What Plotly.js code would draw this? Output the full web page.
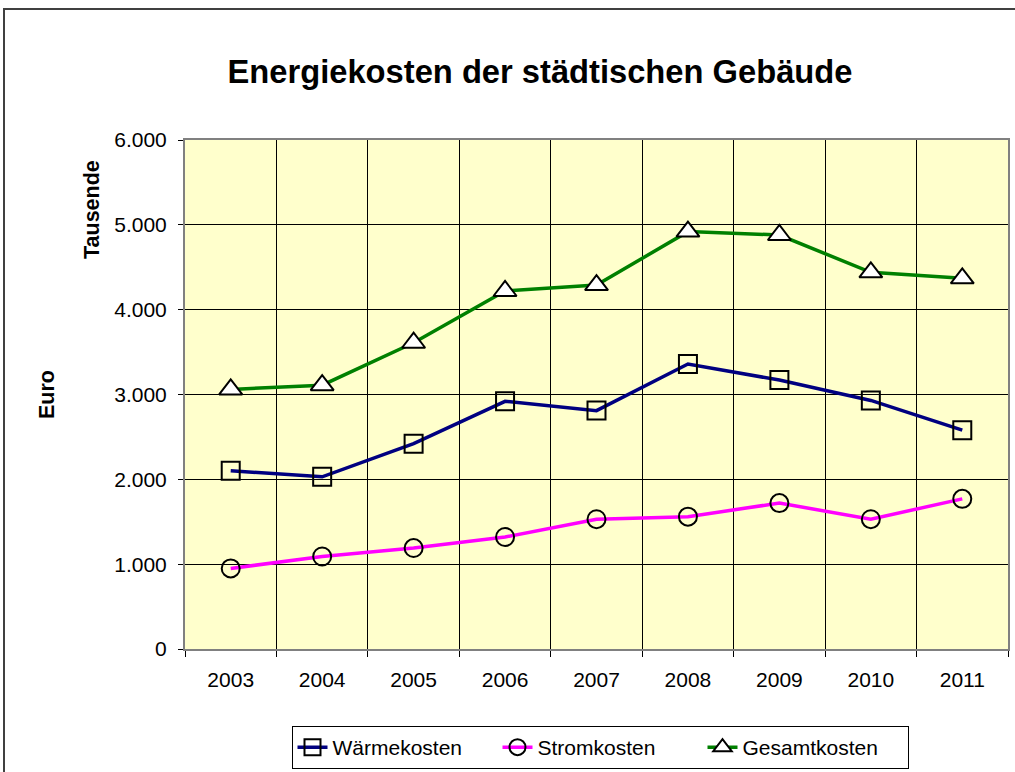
<!DOCTYPE html>
<html>
<head>
<meta charset="utf-8">
<script src="https://cdn.plot.ly/plotly-3.0.1.min.js"></script>
<style>html,body{margin:0;padding:0;background:#fff;}#chart{width:1015px;height:772px;}</style>
</head>
<body>
<div id="chart"></div>
<script>
const years = ['2003','2004','2005','2006','2007','2008','2009','2010','2011'];
const waermekosten = [2100, 2030, 2420, 2920, 2810, 3360, 3170, 2930, 2580];
const stromkosten = [950, 1090, 1190, 1320, 1530, 1560, 1720, 1530, 1770];
const gesamtkosten = [3060, 3110, 3610, 4220, 4290, 4920, 4880, 4440, 4370];
const yTickVals = [0, 1000, 2000, 3000, 4000, 5000, 6000];
const yTickText = ['0', '1.000', '2.000', '3.000', '4.000', '5.000', '6.000'];

const FONT = 'Liberation Sans, Arial, sans-serif';

const traces = [
  {x: years, y: waermekosten, name: 'Wärmekosten', type: 'scatter', mode: 'lines+markers',
   line: {color: '#000080', width: 3.5},
   marker: {symbol: 'square-open', size: 18, color: '#000000', line: {width: 2}}},
  {x: years, y: stromkosten, name: 'Stromkosten', type: 'scatter', mode: 'lines+markers',
   line: {color: '#FF00FF', width: 3.5},
   marker: {symbol: 'circle-open', size: 18, color: '#000000', line: {width: 2}}},
  {x: years, y: gesamtkosten, name: 'Gesamtkosten', type: 'scatter', mode: 'lines+markers',
   line: {color: '#008000', width: 3.5},
   marker: {symbol: 'triangle-up', size: 20, color: '#FFFFFF', line: {color: '#000000', width: 2}}}
];

const layout = {
  width: 1015, height: 772,
  margin: {l: 185, r: 7, t: 140, b: 123},
  paper_bgcolor: '#FFFFFF',
  plot_bgcolor: '#FFFFCC',
  font: {family: FONT, size: 21, color: '#000000'},
  title: {text: '<b>Energiekosten der städtischen Gebäude</b>', font: {family: FONT, size: 32.7, color: '#000'},
          x: 540/1015, xanchor: 'center', y: 1 - 72/772, yanchor: 'middle'},
  showlegend: true,
  legend: {orientation: 'h', xref: 'container', yref: 'container', x: 600/1015, xanchor: 'center', y: 1 - 726/772, yanchor: 'top',
           bordercolor: '#000000', borderwidth: 1, bgcolor: '#FFFFFF',
           font: {family: FONT, size: 21}, itemwidth: 30, entrywidth: 160, entrywidthmode: 'pixels', tracegroupgap: 0},
  xaxis: {type: 'category', range: [-0.5, 8.5], tickson: 'boundaries', ticks: 'outside', ticklen: 6, tickcolor: '#000',
          showgrid: true, gridcolor: '#000000', gridwidth: 1,
          showline: true, linecolor: '#808080', linewidth: 2, mirror: true,
          ticklabelstandoff: 11, tickfont: {family: FONT, size: 21}, zeroline: false, fixedrange: true},
  yaxis: {range: [0, 6000], tickvals: yTickVals, ticktext: yTickText, ticks: 'outside', ticklen: 5, tickcolor: '#000',
          showgrid: true, gridcolor: '#000000', gridwidth: 1,
          showline: true, linecolor: '#808080', linewidth: 2, mirror: true, zeroline: false,
          ticklabelstandoff: 7, tickfont: {family: FONT, size: 21}, fixedrange: true},
  annotations: [
    {text: '<b>Tausende</b>', xref: 'paper', yref: 'paper', x: (92-185)/823, y: (649-210)/509,
     textangle: -90, showarrow: false, font: {family: FONT, size: 21.5}, xanchor: 'center', yanchor: 'middle'},
    {text: '<b>Euro</b>', xref: 'paper', yref: 'paper', x: (47-185)/823, y: (649-395)/509,
     textangle: -90, showarrow: false, font: {family: FONT, size: 21.5}, xanchor: 'center', yanchor: 'middle'}
  ],
  shapes: [
    {type: 'rect', xref: 'paper', yref: 'paper', x0: (4-185)/823, x1: (1020-185)/823,
     y0: (649-780)/509, y1: (649-9)/509, line: {color: '#404040', width: 2}, fillcolor: 'rgba(0,0,0,0)', layer: 'below'}
  ]
};

Plotly.newPlot('chart', traces, layout, {displayModeBar: false, staticPlot: true});
</script>
</body>
</html>
